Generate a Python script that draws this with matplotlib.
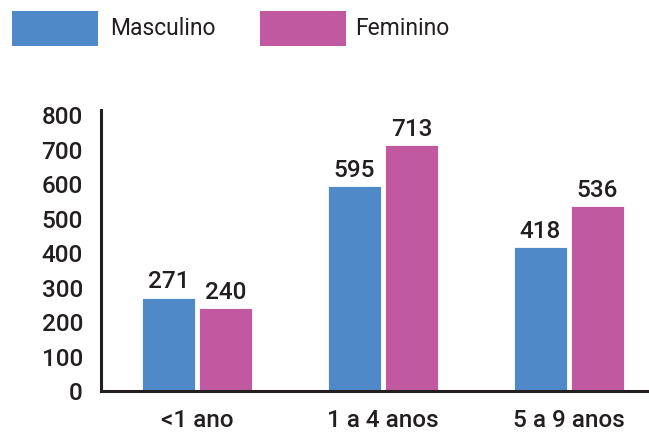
import matplotlib
matplotlib.use("Agg")
import matplotlib.pyplot as plt
from matplotlib.patches import Rectangle
import numpy as np

categories = ["<1 ano", "1 a 4 anos", "5 a 9 anos"]
masculino = [271, 595, 418]
feminino = [240, 713, 536]
series_names = ["Masculino", "Feminino"]
yticks = [0, 100, 200, 300, 400, 500, 600, 700, 800]

blue = "#4F89C8"
pink = "#C059A0"
dark = "#231F20"

plt.rcParams['font.family'] = ['Roboto', 'DejaVu Sans']

W, H = 649, 432
fig = plt.figure(figsize=(W / 100, H / 100), dpi=100)
ax = fig.add_axes([101/W, 1 - 391/H, 1 - 101/W, (391 - 110)/H])

x = np.arange(len(categories))
w = 0.285
off = 0.1535
b1 = ax.bar(x - off, masculino, w, color=blue, edgecolor="white", linewidth=0.6, label=series_names[0])
b2 = ax.bar(x + off, feminino, w, color=pink, edgecolor="white", linewidth=0.6, label=series_names[1])

FS = 17.5
WT = "medium"
for bars, vals in ((b1, masculino), (b2, feminino)):
    for r, v in zip(bars, vals):
        ax.annotate(str(v), (r.get_x() + r.get_width() / 2, r.get_height()),
                    xytext=(0, 3), textcoords="offset points", ha="center", va="bottom",
                    fontsize=FS, color=dark, fontweight=WT)

ax.set_xlim(-0.517, 2.433)
ax.set_ylim(0, 815)
ax.set_yticks(yticks)
ax.set_yticklabels([str(t) for t in yticks])
ax.set_xticks(x)
ax.set_xticklabels(categories)
ax.tick_params(axis="y", length=0, pad=13, labelsize=FS, labelcolor=dark)
ax.tick_params(axis="x", length=0, pad=13, labelsize=FS, labelcolor=dark)
for lab in ax.get_xticklabels() + ax.get_yticklabels():
    lab.set_fontweight(WT)

for s in ("top", "right"):
    ax.spines[s].set_visible(False)
for s in ("left", "bottom"):
    ax.spines[s].set_linewidth(2.2)
    ax.spines[s].set_color(dark)

# legend drawn manually in figure pixels
legend_items = [(series_names[0], blue, 12, 110), (series_names[1], pink, 260, 355)]
for name, col, px, tx in legend_items:
    fig.patches.append(Rectangle((px / W, 1 - 46 / H), 86 / W, 35 / H,
                                 transform=fig.transFigure, facecolor=col, edgecolor="none"))
    fig.text(tx / W, 1 - 28.5 / H, name, ha="left", va="center", fontsize=16.5, color=dark)

fig.savefig("out.png", dpi=100)
